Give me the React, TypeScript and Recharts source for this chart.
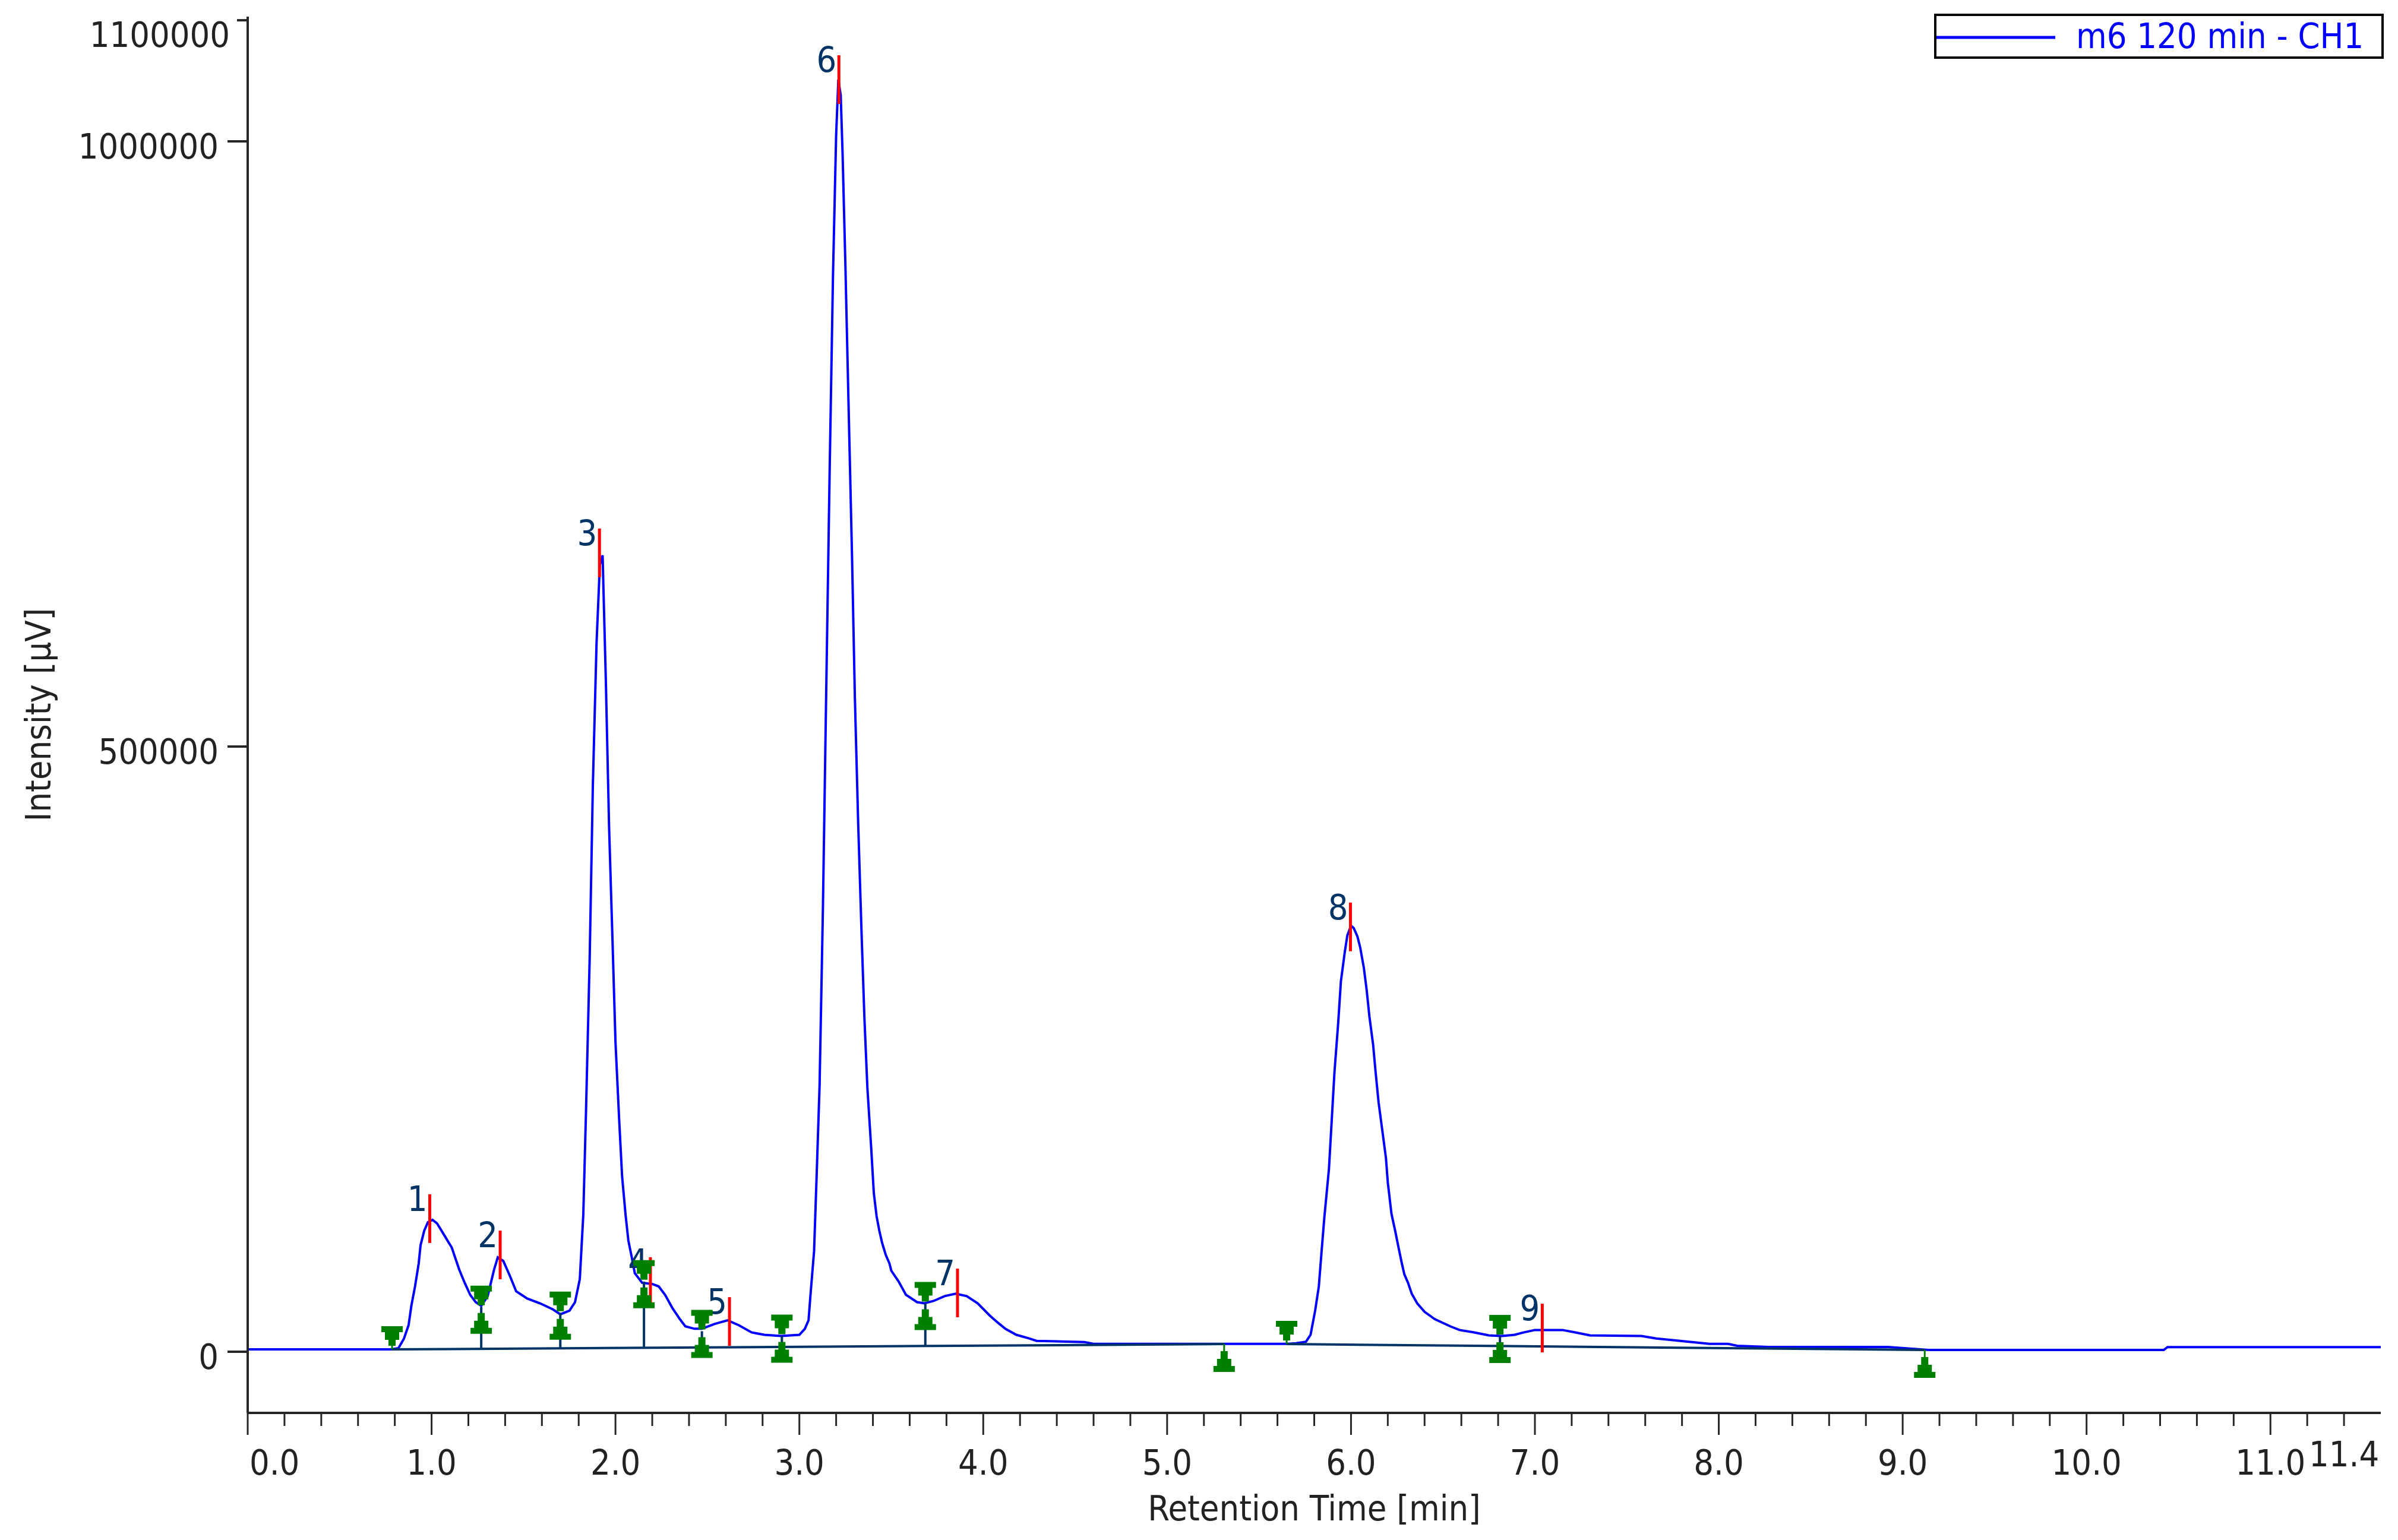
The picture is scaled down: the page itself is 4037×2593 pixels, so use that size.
import React from "react";
import { ComposedChart, Line, Scatter, XAxis, YAxis, ReferenceLine } from "recharts";

const FONT = "'DejaVu Sans Condensed', 'Liberation Sans', sans-serif";
const BLUE = "#0000FF";
const NAVY = "#003366";
const GREEN = "#008000";
const RED = "#FF0000";
const AXIS = "#262626";

const seriesName = "m6 120 min - CH1";

// retention time [min] / intensity [µV]
const time = [
  0, 0.78, 0.82, 0.85, 0.875, 0.89, 0.91, 0.93, 0.94, 0.96, 0.98, 1.005, 1.03, 1.07, 1.11, 1.15, 1.18, 1.21,
  1.24, 1.27, 1.305, 1.34, 1.36, 1.39, 1.425, 1.46, 1.52, 1.59, 1.66, 1.7, 1.75, 1.78, 1.806, 1.825, 1.84,
  1.86, 1.877, 1.897, 1.915, 1.93, 1.948, 1.965, 1.984, 2.0, 2.02, 2.036, 2.055, 2.07, 2.09, 2.105, 2.145,
  2.2, 2.235, 2.27, 2.31, 2.35, 2.38, 2.43, 2.47, 2.54, 2.61, 2.67, 2.74, 2.81, 2.9, 3.0, 3.03, 3.05, 3.06,
  3.08, 3.095, 3.11, 3.128, 3.146, 3.165, 3.183, 3.2, 3.212, 3.225, 3.235, 3.25, 3.267, 3.286, 3.302, 3.32,
  3.338, 3.354, 3.37, 3.39, 3.405, 3.42, 3.435, 3.45, 3.47, 3.49, 3.5, 3.54, 3.58, 3.64, 3.68, 3.73, 3.79,
  3.85, 3.91, 3.97, 4.035, 4.08, 4.12, 4.18, 4.25, 4.29, 4.55, 4.6, 5.65, 5.7, 5.755, 5.78, 5.805, 5.825,
  5.84, 5.855, 5.88, 5.895, 5.91, 5.93, 5.945, 5.965, 5.98, 6.0, 6.015, 6.035, 6.05, 6.07, 6.085, 6.1, 6.12,
  6.135, 6.15, 6.17, 6.19, 6.2, 6.22, 6.24, 6.26, 6.275, 6.29, 6.31, 6.33, 6.36, 6.4, 6.455, 6.54, 6.59,
  6.67, 6.75, 6.82, 6.89, 6.93, 7.0, 7.15, 7.22, 7.3, 7.58, 7.66, 7.79, 7.95, 8.05, 8.1, 8.27, 8.92, 9.14,
  10.42, 10.44, 11.6,
];
const intensity = [
  2000, 2000, 3000, 11000, 22000, 38000, 54000, 73000, 88000, 100000, 107000, 109000, 106000, 96000, 86000,
  68000, 57000, 47000, 41000, 38000, 46000, 68000, 78000, 75000, 63000, 50000, 44000, 40000, 35000, 31000,
  34000, 41000, 60000, 113000, 200000, 327000, 468000, 585000, 650000, 658000, 552000, 435000, 339000,
  256000, 192000, 145000, 113000, 92000, 77000, 65000, 57000, 56000, 54000, 47000, 36000, 27000, 21000,
  19000, 19000, 23000, 26000, 22000, 16000, 14000, 13000, 14000, 19000, 26000, 46000, 83000, 150000, 220000,
  365000, 545000, 730000, 890000, 1005000, 1051000, 1038000, 990000, 900000, 786000, 660000, 540000, 436000,
  347000, 275000, 218000, 170000, 131000, 112000, 100000, 90000, 80000, 73000, 67000, 58000, 47000, 41000,
  40000, 42000, 46000, 48000, 46000, 40000, 30000, 24000, 19000, 14000, 11000, 9000, 8000, 6500, 6500, 7000,
  8300, 14000, 34000, 54000, 83000, 111000, 151000, 191000, 231000, 271000, 306000, 329000, 344000, 352000,
  350000, 343000, 334000, 317000, 299000, 277000, 254000, 229000, 206000, 183000, 160000, 140000, 114000,
  100000, 85000, 74000, 64000, 57000, 48000, 40000, 33000, 27000, 21000, 18000, 16000, 13500, 13000, 14000,
  15700, 18000, 18000, 16000, 13500, 13000, 11000, 9000, 6500, 6500, 5000, 4000, 4000, 1500, 1500, 3900, 3900,
];

// detected peaks
const peakNames = ["1", "2", "3", "4", "5", "6", "7", "8", "9"];
const peakTimes = [0.99, 1.373, 1.913, 2.19, 2.62, 3.215, 3.86, 5.997, 7.04];
const peakHeights = [110000, 80000, 660000, 58000, 25000, 1051000, 48600, 351000, 19600];

// peak boundaries (start ▼ / end ▲)
const boundTimes = [0.785, 1.27, 1.7, 2.155, 2.47, 2.905, 3.685, 5.31, 5.65, 6.81, 9.12];
const boundLevels = [2000, 37000, 32000, 58000, 17000, 13000, 40000, 6400, 6400, 12800, 1500];
const boundKinds = ["start", "both", "both", "both", "both", "both", "both", "end", "start", "both", "end"];
const dropBase = [null, 2470, 2890, 3330, 3640, 4060, 4820, null, null, 4760, null];

// integration baselines
const baseTimesA = [0.785, 5.31];
const baseLevelsA = [1960, 6380];
const baseTimesB = [5.65, 9.12];
const baseLevelsB = [6380, 1470];

const xMajorTicks = [0, 1, 2, 3, 4, 5, 6, 7, 8, 9, 10, 11];
const xTickLabels = ["0.0", "1.0", "2.0", "3.0", "4.0", "5.0", "6.0", "7.0", "8.0", "9.0", "10.0", "11.0"];
const xEndTick = 11.4;
const xEndLabel = "11.4";
const xTicks = Array.from({ length: 58 }, (_, i) => +(i * 0.2).toFixed(1));

const yTicks = [0, 500000, 1000000, 1100000];
const yTickLabels = ["0", "500000", "1000000", "1100000"];

const chrom = time.map((t, i) => ({ t, I: intensity[i] }));
const peaks = peakTimes.map((t, i) => ({ t, I: peakHeights[i], name: peakNames[i] }));
const bounds = boundTimes.map((t, i) => ({ t, I: boundLevels[i], kind: boundKinds[i] }));
const baseA = baseTimesA.map((t, i) => ({ t, I: baseLevelsA[i] }));
const baseB = baseTimesB.map((t, i) => ({ t, I: baseLevelsB[i] }));

const XTick = (props: any) => {
  const { x, y, payload } = props;
  const v = payload.value;
  const idx = xMajorTicks.indexOf(v);
  const major = idx >= 0;
  return (
    <g>
      <line x1={x} y1={y} x2={x} y2={y + (major ? 37 : 22)} stroke={AXIS} strokeWidth={3} />
      {major && (
        <text
          x={v === 0 ? x + 3 : x}
          y={y + 104}
          textAnchor={v === 0 ? "start" : "middle"}
          fontSize={59}
          fontFamily={FONT}
          fill="#222"
        >
          {xTickLabels[idx]}
        </text>
      )}
      {v === xEndTick && (
        <text x={x} y={y + 90} textAnchor="middle" fontSize={59} fontFamily={FONT} fill="#222">
          {xEndLabel}
        </text>
      )}
    </g>
  );
};

const YTick = (props: any) => {
  const { x, y, payload } = props;
  const v = payload.value;
  const i = yTicks.indexOf(v);
  const top = v === 1100000;
  return (
    <g>
      <line x1={x - (top ? 18 : 34)} y1={y} x2={x} y2={y} stroke={AXIS} strokeWidth={4} />
      <text
        x={top ? x - 30 : x - 49}
        y={y + (top ? 45 : 29)}
        textAnchor="end"
        fontSize={59}
        fontFamily={FONT}
        fill="#222"
      >
        {yTickLabels[i]}
      </text>
    </g>
  );
};

const PeakMark = (p: any) => {
  const { cx, cy, payload } = p;
  return (
    <g>
      <line x1={cx} y1={cy - 41} x2={cx} y2={cy + 41} stroke={RED} strokeWidth={5} />
      <text x={cx - 4} y={cy - 13} textAnchor="end" fill={NAVY} fontSize={59} fontFamily={FONT}>
        {payload.name}
      </text>
    </g>
  );
};

// stepped triangles like the pixel markers of the original
const downTri = (cx: number, b: number) =>
  [
    [-18, -33], [18, -33], [18, -23], [12, -23], [12, -10], [6, -10], [6, 0],
    [-6, 0], [-6, -10], [-12, -10], [-12, -23], [-18, -23],
  ]
    .map(([dx, dy]) => `${cx + dx},${b + dy}`)
    .join(" ");
const upTri = (cx: number, t: number) =>
  [
    [-6, 0], [6, 0], [6, 13], [12, 13], [12, 25], [18, 25], [18, 35],
    [-18, 35], [-18, 25], [-12, 25], [-12, 13], [-6, 13],
  ]
    .map(([dx, dy]) => `${cx + dx},${t + dy}`)
    .join(" ");

const BoundMark = (p: any) => {
  const { cx, cy, payload } = p;
  const k = payload.kind;
  return (
    <g>
      {k === "start" && (
        <>
          <line x1={cx} y1={cy - 8} x2={cx} y2={cy} stroke={GREEN} strokeWidth={3} />
          <polygon points={downTri(cx, cy - 6)} fill={GREEN} />
        </>
      )}
      {k === "end" && (
        <>
          <line x1={cx} y1={cy} x2={cx} y2={cy + 13} stroke={GREEN} strokeWidth={3} />
          <polygon points={upTri(cx, cy + 12)} fill={GREEN} />
        </>
      )}
      {k === "both" && (
        <>
          <polygon points={downTri(cx, cy - 3)} fill={GREEN} />
          <polygon points={upTri(cx, cy + 10)} fill={GREEN} />
        </>
      )}
    </g>
  );
};

const LegendBox = () => (
  <div
    style={{
      position: "absolute",
      left: 3256,
      top: 23,
      boxSizing: "border-box",
      width: 757,
      height: 76,
      border: "4px solid #000",
      background: "#fff",
      overflow: "hidden",
    }}
  >
    <svg width={757} height={76} style={{ position: "absolute", left: -4, top: -4 }}>
      <line x1={0} y1={40} x2={204} y2={40} stroke={BLUE} strokeWidth={5} />
      <text x={239} y={58} fill={BLUE} fontSize={59} fontFamily={FONT}>
        {seriesName}
      </text>
    </svg>
  </div>
);

export default function App() {
  return (
    <div style={{ position: "absolute", left: 0, top: 0, width: 4037, height: 2593, background: "#fff" }}>
      <ComposedChart width={4037} height={2593} margin={{ top: 28, right: 29, bottom: 0, left: 0 }}>
        <XAxis
          type="number"
          dataKey="t"
          domain={[0, 11.6]}
          ticks={xTicks}
          interval={0}
          allowDataOverflow
          height={214}
          tickSize={0}
          tickMargin={0}
          axisLine={{ stroke: AXIS, strokeWidth: 4 }}
          tickLine={false}
          tick={<XTick />}
          label={{
            content: (lp: any) => {
              const vb = lp.viewBox;
              return (
                <text
                  x={vb.x + vb.width / 2}
                  y={vb.y + 181}
                  textAnchor="middle"
                  fontSize={59}
                  fontFamily={FONT}
                  fill="#222"
                >
                  Retention Time [min]
                </text>
              );
            },
          }}
        />
        <YAxis
          type="number"
          domain={[-50500, 1103000]}
          ticks={yTicks}
          interval={0}
          allowDataOverflow
          width={417}
          tickSize={0}
          tickMargin={0}
          axisLine={{ stroke: AXIS, strokeWidth: 4 }}
          tickLine={false}
          tick={<YTick />}
          label={{
            content: (lp: any) => {
              const vb = lp.viewBox;
              const cy = vb.y + vb.height / 2;
              return (
                <text
                  x={85}
                  y={cy}
                  transform={`rotate(-90, 85, ${cy})`}
                  textAnchor="middle"
                  fontSize={59}
                  fontFamily={FONT}
                  fill="#222"
                >
                  Intensity [µV]
                </text>
              );
            },
          }}
        />
        <Line
          data={chrom}
          dataKey="I"
          type="linear"
          stroke={BLUE}
          strokeWidth={4}
          dot={false}
          activeDot={false}
          isAnimationActive={false}
          name={seriesName}
        />
        <Line
          data={baseA}
          dataKey="I"
          type="linear"
          stroke={NAVY}
          strokeWidth={4}
          dot={false}
          activeDot={false}
          isAnimationActive={false}
        />
        <Line
          data={baseB}
          dataKey="I"
          type="linear"
          stroke={NAVY}
          strokeWidth={4}
          dot={false}
          activeDot={false}
          isAnimationActive={false}
        />
        {bounds.map((b, i) =>
          dropBase[i] === null ? null : (
            <ReferenceLine
              key={`drop-${i}`}
              segment={[
                { x: b.t, y: b.I },
                { x: b.t, y: dropBase[i] as number },
              ]}
              stroke={NAVY}
              strokeWidth={4}
              ifOverflow="visible"
            />
          )
        )}
        <Scatter data={peaks} dataKey="I" shape={<PeakMark />} isAnimationActive={false} />
        <Scatter data={bounds} dataKey="I" shape={<BoundMark />} isAnimationActive={false} />
      </ComposedChart>
      <LegendBox />
    </div>
  );
}
